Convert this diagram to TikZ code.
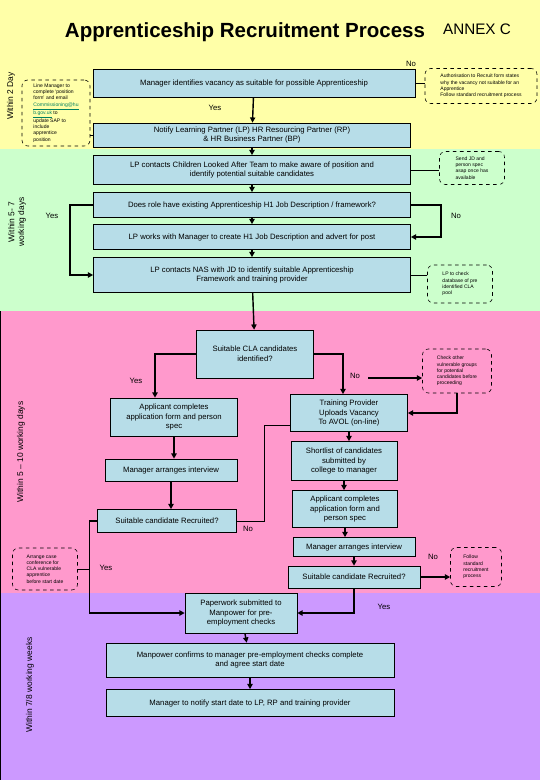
\documentclass[tikz,border=0pt]{standalone}
\usepackage{fontspec}
\setmainfont{Liberation Sans}
\usepackage{tikz}
\usepackage{xcolor}
\usetikzlibrary{arrows.meta,positioning,calc}
\definecolor{bandyel}  {HTML}{FFFFA8}
\definecolor{bandgrn}  {HTML}{CCFFCC}
\definecolor{bandpnk}  {HTML}{FF99CC}
\definecolor{bandpur}  {HTML}{CC99FF}
\definecolor{stepblue} {HTML}{B7DDE8}
\definecolor{linkgreen}{HTML}{008060}
\tikzset{
  stepbox/.style={draw=black,line width=0.5pt,fill=stepblue,align=center,
                  inner sep=1pt,font=\fontsize{6.6}{8.2}\selectfont},
  notebox/.style={draw=black,dashed,line width=0.5pt,rounded corners=5pt,
                  align=left,inner sep=1pt,font=\fontsize{4.3}{5.3}\selectfont},
  flow/.style={line width=1.2pt,-{Triangle[length=4.5pt,width=4.5pt]}},
  tie/.style={line width=0.6pt},
  lbl/.style={font=\fontsize{6.6}{8}\selectfont,inner sep=1pt},
  side/.style={rotate=90,align=center,font=\fontsize{7.2}{8.4}\selectfont}
}
\begin{document}
\begin{tikzpicture}[x=0.03cm,y=-0.03cm]
  \useasboundingbox (0,0) rectangle (540,780);
  % bands
  \fill[bandyel] (0,0)   rectangle (540,149);
  \fill[bandgrn] (0,149) rectangle (540,311);
  \fill[bandpnk] (0,311) rectangle (540,593);
  \fill[bandpur] (0,593) rectangle (540,780);
  \draw[line width=0.8pt] (0.5,311) -- (0.5,780);

  % titles and time labels
  \node (title) at (245,32) {\fontsize{17.5}{20}\selectfont\bfseries Apprenticeship Recruitment Process};
  \node (annex) at (477,29) {\fontsize{13}{15}\selectfont ANNEX C};
  \node[side] (t1) at (11,96)  {Within 2 Day};
  \node[side] (t2) at (17,222) {Within 5- 7\\working days};
  \node[side] (t3) at (21,452) {Within 5 -- 10 working days};
  \node[side] (t4) at (30,685) {Within 7/8 working weeks};

  % process steps
  \node[stepbox,minimum width=9.66cm,minimum height=0.84cm] (b1) at (254,83)
    {Manager identifies vacancy as suitable for possible Apprenticeship};
  \node[stepbox,minimum width=9.51cm,minimum height=0.72cm] (b2) at (252,135)
    {Notify Learning Partner (LP) HR Resourcing Partner (RP)\\ \& HR Business Partner (BP)};
  \node[stepbox,minimum width=9.51cm,minimum height=0.87cm] (b3) at (252,170)
    {LP contacts Children Looked After Team to make aware of position and\\identify potential suitable candidates};
  \node[stepbox,minimum width=9.51cm,minimum height=0.75cm] (b4) at (252,205)
    {Does role have existing Apprenticeship H1 Job Description / framework?};
  \node[stepbox,minimum width=9.51cm,minimum height=0.75cm] (b5) at (252,237)
    {LP works with Manager to create H1 Job Description and advert for post};
  \node[stepbox,minimum width=9.51cm,minimum height=1.05cm] (b6) at (252,275)
    {LP contacts NAS with JD to identify suitable Apprenticeship\\Framework and training provider};
  \node[stepbox,minimum width=3.51cm,minimum height=1.44cm] (b7) at (255,354)
    {Suitable CLA candidates\\identified?};
  \node[stepbox,minimum width=3.81cm,minimum height=1.14cm] (b8) at (174,417)
    {Applicant completes\\application form and person\\spec};
  \node[stepbox,minimum width=3.51cm,minimum height=1.11cm] (b9) at (349,413)
    {Training Provider\\Uploads Vacancy\\To AVOL (on-line)};
  \node[stepbox,minimum width=3.96cm,minimum height=0.66cm] (b10) at (171,470)
    {Manager arranges interview};
  \node[stepbox,minimum width=3.18cm,minimum height=1.17cm] (b11) at (344,461)
    {Shortlist of candidates\\submitted by\\college to manager};
  \node[stepbox,minimum width=3.15cm,minimum height=1.11cm] (b12) at (345,509)
    {Applicant completes\\application form and\\person spec};
  \node[stepbox,minimum width=4.17cm,minimum height=0.69cm] (b13) at (167,521)
    {Suitable candidate Recruited?};
  \node[stepbox,minimum width=3.66cm,minimum height=0.57cm] (b14) at (354,547)
    {Manager arranges interview};
  \node[stepbox,minimum width=3.96cm,minimum height=0.66cm] (b15) at (354,577)
    {Suitable candidate Recruited?};
  \node[stepbox,minimum width=3.36cm,minimum height=1.2cm] (b16) at (241,613)
    {Paperwork submitted to\\Manpower for pre-\\employment checks};
  \node[stepbox,minimum width=8.64cm,minimum height=1.02cm] (b17) at (250,660)
    {Manpower confirms to manager pre-employment checks complete\\and agree start date};
  \node[stepbox,minimum width=8.64cm,minimum height=0.81cm] (b18) at (250,703)
    {Manager to notify start date to LP, RP and training provider};

  % notes
  \node[notebox,fill=bandyel,minimum width=2.04cm,minimum height=1.98cm] (n1) at (56,113)
    {Line Manager to\\complete `position\\form' and email\\\textcolor{linkgreen}{\underline{Commissioning@hu}}\\\textcolor{linkgreen}{\underline{b.gov.uk}} to\\update SAP to\\include\\apprentice\\position};
  \node[notebox,fill=bandyel,minimum width=3.36cm,minimum height=1.05cm] (n2) at (481,86)
    {Authorisation to Recruit form states\\why the vacancy not suitable for an\\Apprentice\\Follow standard recruitment process};
  \node[notebox,fill=bandgrn,minimum width=1.95cm,minimum height=0.99cm] (n3) at (472,168)
    {Send JD and\\person spec\\asap once has\\available};
  \node[notebox,fill=bandgrn,minimum width=1.95cm,minimum height=1.14cm] (n4) at (460,284)
    {LP to check\\database of pre\\identified CLA\\pool};
  \node[notebox,fill=bandpnk,minimum width=2.07cm,minimum height=1.32cm] (n5) at (457,371)
    {Check other\\vulnerable groups\\for potential\\candidates before\\proceeding};
  \node[notebox,fill=bandpnk,minimum width=1.95cm,minimum height=1.26cm] (n6) at (45,569)
    {Arrange case\\conference for\\CLA vulnerable\\apprentice\\before start date};
  \node[notebox,fill=bandpnk,minimum width=1.53cm,minimum height=1.17cm] (n7) at (476,567)
    {Follow\\standard\\recruitment\\process};

  % connectors
  \draw[flow] (b1) -- (b2);
  \node[lbl] (y1) at (215,108) {Yes};
  \draw[tie] (b1.east) -- (b1.east -| n2.west);
  \node[lbl] (no1) at (411,64) {No};
  \draw[tie] (n1.east |- b2.west) -- (b2.west);
  \draw[flow] (b2) -- (b3);
  \draw[tie] (b3.east) -- (b3.east -| n3.west);
  \draw[flow] (b3) -- (b4);
  \draw[flow] (b4) -- (b5);
  \draw[flow] (b5) -- (b6);
  \draw[flow] (b4.east) -- ++(30,0) |- (b5.east);
  \node[lbl] (no2) at (456,216) {No};
  \draw[flow] (b4.west) -- ++(-23,0) |- (b6.west);
  \node[lbl] (y2) at (52,216) {Yes};
  \draw[tie] (b6.east) -- (b6.east -| n4.west);
  \draw[flow] (b6) -- (b7);
  \draw[flow] (b7.west) -| ($(b8.north)+(-19,0)$);
  \node[lbl] (y3) at (136,381) {Yes};
  \draw[flow] (b7.east) -| ($(b9.north)+(-6,0)$);
  \node[lbl] (no3) at (355,376) {No};
  \coordinate (cn) at (368,378);
  \draw[flow] (cn) -- (cn -| n5.west);
  \draw[flow] (n5.south) |- (b9.east);
  \draw[flow] (b8) -- (b8 |- b10.north);
  \draw[flow] (b10) -- (b10 |- b13.north);
  \draw[flow] (b9) -- (b9 |- b11.north);
  \draw[flow] (b11) -- (b11 |- b12.north);
  \draw[flow] (b12) -- (b12 |- b14.north);
  \draw[flow] (b14) -- (b15);
  \draw[tie] (b13.east) -- ++(28,0) |- ($(b9.west)+(0,12)$);
  \node[lbl] (no4) at (248,529) {No};
  \coordinate (yx) at ($(b13.west)+(-8,0)$);
  \draw[flow] (b13.west) -- (yx) |- (b16.west);
  \draw[tie] (n6.east) -- (n6.east -| yx);
  \node[lbl] (y4) at (106,568) {Yes};
  \draw[flow] (b15.east) -- (b15.east -| n7.west);
  \node[lbl] (no5) at (433,557) {No};
  \draw[flow] (b15.south) |- (b16.east);
  \node[lbl] (y5) at (384,607) {Yes};
  \draw[flow] (b16) -- (b17);
  \draw[flow] (b17) -- (b18);
\end{tikzpicture}
\end{document}
